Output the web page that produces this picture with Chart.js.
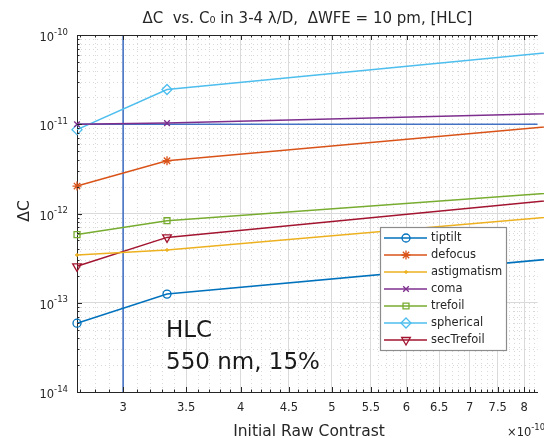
<!DOCTYPE html>
<html>
<head>
<meta charset="utf-8">
<script src="https://cdn.jsdelivr.net/npm/chart.js"></script>
<style>
  html, body { margin: 0; padding: 0; background: #fff; overflow: hidden; }
  #wrap { width: 544px; height: 438px; }
</style>
</head>
<body>
<div id="wrap"><canvas id="chart" width="544" height="438"></canvas></div>
<script>
/* Données (C0 initial, delta C par aberration) */
// le 3e point est hors du cadre, a droite : seule la pente est visible
const contrast = [2.68e-10, 3.34e-10, 1e-9]
const tiptilt = [5.9e-14, 1.25e-13, 3.6e-13]
const defocus = [2.03e-12, 3.9e-12, 1.1e-11]
const astigmatism = [3.43e-13, 3.9e-13, 1.06e-12]
const coma = [1.0e-11, 1.03e-11, 1.37e-11]
const trefoil = [5.8e-13, 8.3e-13, 1.92e-12]
const spherical = [8.7e-12, 2.45e-11, 7.5e-11]
const secTrefoil = [2.56e-13, 5.4e-13, 1.65e-12]

const seriesNames = ['tiptilt', 'defocus', 'astigmatism', 'coma', 'trefoil', 'spherical', 'secTrefoil']
const seriesValues = [tiptilt, defocus, astigmatism, coma, trefoil, spherical, secTrefoil]

/* Lignes de repère bleues */
const refContrast = 3e-10
const refDeltaC = 1e-11

/* Axes */
const xMin = 2.68e-10
const xMax = 8.27e-10
const yMin = 1e-14
const yMax = 1e-10
const xTickLabels = ['3', '3.5', '4', '4.5', '5', '5.5', '6', '6.5', '7', '7.5', '8']
const xTickValues = xTickLabels.map(t => Number(t) * 1e-10)
const yTickValues = [1e-14, 1e-13, 1e-12, 1e-11, 1e-10]
const yTickBase = '10'
const yTickExponents = ['-14', '-13', '-12', '-11', '-10']

const titleText = 'ΔC  vs. C₀ in 3-4 λ/D,  ΔWFE = 10 pm, [HLC]'
const xTitle = 'Initial Raw Contrast'
const yTitle = 'ΔC'
const xExponentBase = '×10'
const xExponent = '-10'
const noteLines = ['HLC', '550 nm, 15%']

/* Styles façon matlab */
const styles = [
  { color: '#0072BD', marker: 'circle', radius: 4, rotation: 0 },
  { color: '#D95319', marker: 'star', radius: 4.5, rotation: 0 },
  { color: '#EDB120', marker: 'cross', radius: 2, rotation: 0 },
  { color: '#7E2F8E', marker: 'crossRot', radius: 4, rotation: 0 },
  { color: '#77AC30', marker: 'rect', radius: 4.2, rotation: 0 },
  { color: '#4DBEEE', marker: 'rectRot', radius: 5, rotation: 0 },
  { color: '#A2142F', marker: 'triangle', radius: 5, rotation: 180 },
]
const refColor = '#4472C4'
const textColor = '#262626'
const font = 'DejaVu Sans'

Chart.defaults.font.family = font
Chart.defaults.color = textColor

const datasets = seriesNames.map((name, i) => ({
  label: name,
  data: contrast.map((c, j) => ({ x: c, y: seriesValues[i][j] })),
  borderColor: styles[i].color,
  backgroundColor: 'rgba(0,0,0,0)',
  borderWidth: 1.5,
  pointStyle: styles[i].marker,
  pointRadius: styles[i].radius,
  pointRotation: styles[i].rotation,
  pointBorderWidth: 1.3,
  pointBackgroundColor: 'rgba(0,0,0,0)',
  clip: false,
}))

datasets.push({
  label: 'refV',
  data: [{ x: refContrast, y: yMin }, { x: refContrast, y: yMax }],
  borderColor: refColor, borderWidth: 1.6, pointRadius: 0,
})
datasets.push({
  label: 'refH',
  data: [{ x: xMin, y: refDeltaC }, { x: xMax, y: refDeltaC }],
  borderColor: refColor, borderWidth: 1.6, pointRadius: 0,
})

/* Grille mineure, ticks vers l'intérieur, textes et légende */
const xMinor = []
for (let k = 27; k <= 82; k++) if (k % 5) xMinor.push(k * 1e-11)
const yMinor = []
for (let e = -14; e < -10; e++) for (let m = 2; m <= 9; m++) yMinor.push(m * Math.pow(10, e))

const decor = {
  id: 'decor',
  beforeDatasetsDraw(chart) {
    const { ctx, chartArea: a, scales: { x, y } } = chart
    ctx.save()
    ctx.strokeStyle = '#d9d9d9'
    ctx.lineWidth = 1
    ctx.setLineDash([1, 3])
    ctx.beginPath()
    xMinor.forEach(v => {
      const px = Math.round(x.getPixelForValue(v)) + 0.5
      ctx.moveTo(px, a.top); ctx.lineTo(px, a.bottom)
    })
    yMinor.forEach(v => {
      const py = Math.round(y.getPixelForValue(v)) + 0.5
      ctx.moveTo(a.left, py); ctx.lineTo(a.right, py)
    })
    ctx.stroke()
    ctx.restore()
  },
  afterDatasetsDraw(chart) {
    const { ctx, chartArea: a, scales: { x, y } } = chart
    ctx.save()
    ctx.strokeStyle = textColor
    ctx.lineWidth = 1
    ctx.beginPath()
    const xt = (v, len) => {
      const px = Math.round(x.getPixelForValue(v)) + 0.5
      ctx.moveTo(px, a.bottom); ctx.lineTo(px, a.bottom - len)
      ctx.moveTo(px, a.top); ctx.lineTo(px, a.top + len)
    }
    xTickValues.forEach(v => xt(v, 5))
    xMinor.forEach(v => xt(v, 2.5))
    const yt = (v, len) => {
      const py = Math.round(y.getPixelForValue(v)) + 0.5
      ctx.moveTo(a.left, py); ctx.lineTo(a.left + len, py)
    }
    yTickValues.forEach(v => yt(v, 5))
    yMinor.forEach(v => yt(v, 2.5))
    // bord du haut
    ctx.moveTo(a.left, a.top + 0.5); ctx.lineTo(a.right, a.top + 0.5)
    ctx.stroke()
    ctx.restore()
  },
  afterDraw(chart) {
    const { ctx, chartArea: a, scales: { y } } = chart
    ctx.save()
    ctx.fillStyle = textColor

    // étiquettes de l'axe y : 10 puissance n
    ctx.textAlign = 'right'
    ctx.textBaseline = 'alphabetic'
    yTickValues.forEach((v, i) => {
      const py = y.getPixelForValue(v)
      ctx.font = '8.5px ' + font
      const w = ctx.measureText(yTickExponents[i]).width
      ctx.fillText(yTickExponents[i], a.left - 9, py - 0.5)
      ctx.font = '11.5px ' + font
      ctx.fillText(yTickBase, a.left - 9 - w, py + 6)
    })

    // titres des axes
    ctx.font = '15.5px ' + font
    ctx.textAlign = 'center'
    ctx.fillText(xTitle, 309, 436)
    ctx.save()
    ctx.translate(29, 211)
    ctx.rotate(-Math.PI / 2)
    ctx.fillText(yTitle, 0, 0)
    ctx.restore()

    ctx.textAlign = 'left'
    ctx.font = '11.5px ' + font
    ctx.fillText(xExponentBase, 507, 436)
    const bw = ctx.measureText(xExponentBase).width
    ctx.font = '8.5px ' + font
    ctx.fillText(xExponent, 507 + bw, 430)

    // annotation HLC
    ctx.font = '23px ' + font
    ctx.fillStyle = '#1a1a1a'
    ctx.fillText(noteLines[0], 166, 337)
    ctx.fillText(noteLines[1], 166, 369)

    // légende
    const lx = 380.5, ly = 227.5, lw = 126, lh = 123
    ctx.fillStyle = '#ffffff'
    ctx.fillRect(lx, ly, lw, lh)
    ctx.strokeStyle = '#8c8c8c'
    ctx.lineWidth = 1.2
    ctx.strokeRect(lx, ly, lw, lh)
    ctx.font = '11.5px ' + font
    ctx.textBaseline = 'middle'
    seriesNames.forEach((name, i) => {
      const s = styles[i]
      const ry = 238 + i * 17
      ctx.strokeStyle = s.color
      ctx.lineWidth = 1.5
      ctx.beginPath()
      ctx.moveTo(384, ry); ctx.lineTo(427, ry)
      ctx.stroke()
      ctx.fillStyle = 'rgba(0,0,0,0)'
      ctx.lineWidth = 1.3
      if (Chart.helpers && Chart.helpers.drawPoint) {
        Chart.helpers.drawPoint(ctx, { pointStyle: s.marker, radius: s.radius, rotation: s.rotation, borderWidth: 1.3 }, 406, ry)
      }
      ctx.fillStyle = textColor
      ctx.fillText(name, 431, ry + 0.5)
    })
    ctx.restore()
  }
}

new Chart(document.querySelector('#chart'), {
  type: 'line',
  data: { datasets },
  options: {
    responsive: false,
    animation: false,
    layout: { padding: 0 },
    plugins: {
      legend: { display: false },
      tooltip: { enabled: false },
      title: {
        display: true,
        text: titleText,
        fullSize: false,
        color: textColor,
        font: { family: font, size: 15, weight: 'normal', lineHeight: 1.2 },
        padding: { top: 10, bottom: 7 },
      },
    },
    scales: {
      x: {
        type: 'logarithmic',
        min: xMin,
        max: xMax,
        afterBuildTicks: s => { s.ticks = xTickValues.map(v => ({ value: v })) },
        afterFit: s => { s.height = 46 },
        ticks: {
          autoSkip: false,
          maxRotation: 0,
          padding: 9,
          color: textColor,
          font: { size: 11.5 },
          callback: (v, i) => xTickLabels[i],
        },
        grid: { color: '#dadada', lineWidth: 1, drawTicks: false },
        border: { color: textColor, width: 1 },
      },
      y: {
        type: 'logarithmic',
        min: yMin,
        max: yMax,
        afterBuildTicks: s => { s.ticks = yTickValues.map(v => ({ value: v })) },
        afterFit: s => { s.width = 77 },
        ticks: { display: false },
        grid: { color: '#dadada', lineWidth: 1, drawTicks: false },
        border: { color: textColor, width: 1 },
      },
    },
  },
  plugins: [decor],
})
</script>
</body>
</html>
